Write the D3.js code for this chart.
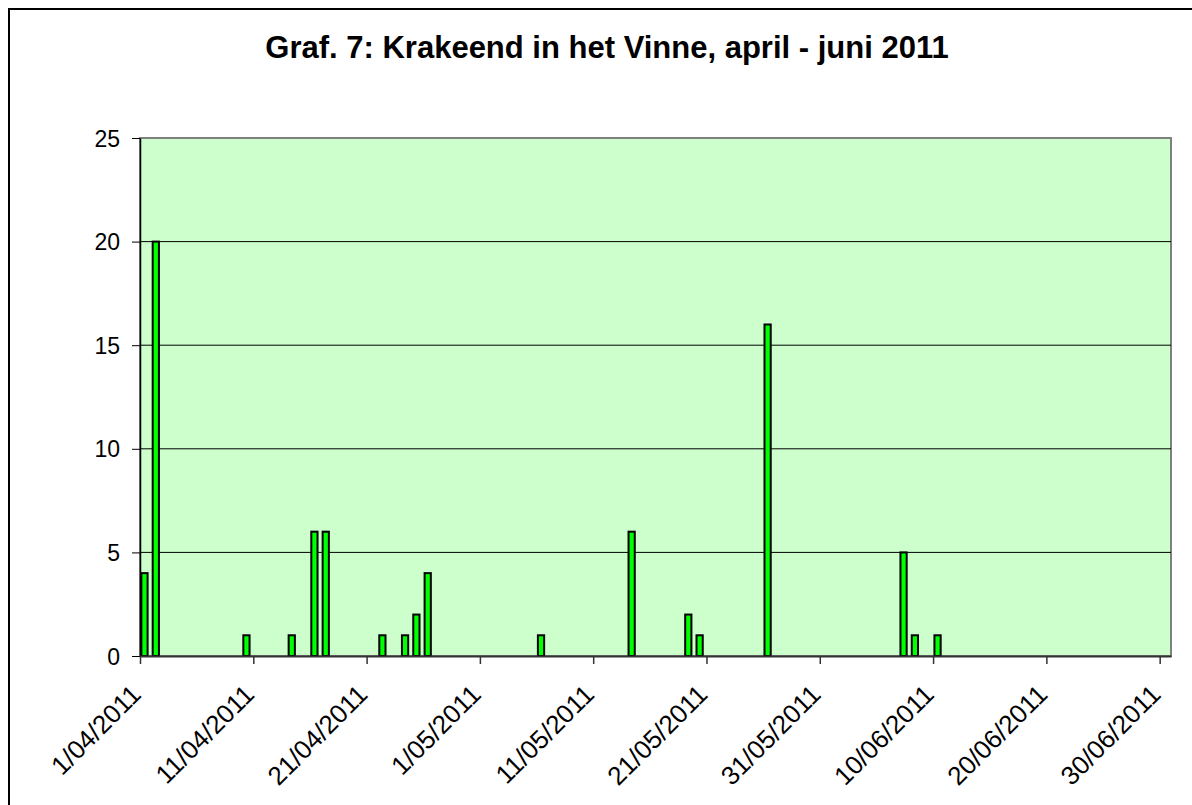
<!DOCTYPE html>
<html>
<head>
<meta charset="utf-8">
<script src="https://cdn.jsdelivr.net/npm/d3@7"></script>
<style>
	body { margin: 0; background: #fff; }
	svg text { font-family: "Liberation Sans", Arial, sans-serif; fill: #000; }
</style>
</head>
<body>
<div id="chart"></div>
<script>
// counts per day (Krakeend, het Vinne)
var obsDates = ['1/04/2011', '2/04/2011', '10/04/2011', '14/04/2011', '16/04/2011', '17/04/2011',
	'22/04/2011', '24/04/2011', '25/04/2011', '26/04/2011', '6/05/2011', '14/05/2011',
	'19/05/2011', '20/05/2011', '26/05/2011', '7/06/2011', '8/06/2011', '10/06/2011'];
var obsCounts = [4, 20, 1, 1, 6, 6, 1, 1, 2, 4, 1, 6, 2, 1, 16, 5, 1, 1];

var xTickLabels = ['1/04/2011', '11/04/2011', '21/04/2011', '1/05/2011', '11/05/2011',
	'21/05/2011', '31/05/2011', '10/06/2011', '20/06/2011', '30/06/2011'];
var yTicks = [0, 5, 10, 15, 20, 25];

var chartTitle = 'Graf. 7: Krakeend in het Vinne, april - juni 2011';

var W = 1192, H = 805;
var plot = {left: 140, right: 1171, top: 138, bottom: 656};
var parseDate = d3.timeParse('%d/%m/%Y');

var svg = d3.select('#chart').append('svg')
	.attr('width', W)
	.attr('height', H);

// outer chart border (right/bottom fall outside the picture)
svg.append('rect')
	.attr('x', 9).attr('y', 9)
	.attr('width', W + 20).attr('height', H + 20)
	.attr('fill', '#fff')
	.attr('stroke', '#000')
	.attr('stroke-width', 2);

svg.append('text')
	.attr('x', 607)
	.attr('y', 58)
	.attr('text-anchor', 'middle')
	.style('font-size', '31px')
	.style('font-weight', 'bold')
	.text(chartTitle);

var x = d3.scaleTime()
	.domain([parseDate('1/04/2011'), parseDate('1/07/2011')])
	.range([plot.left, plot.right]);

var y = d3.scaleLinear()
	.domain([0, 25])
	.range([plot.bottom, plot.top]);

// plot background
svg.append('rect')
	.attr('x', plot.left).attr('y', plot.top)
	.attr('width', plot.right - plot.left)
	.attr('height', plot.bottom - plot.top)
	.attr('fill', '#ccffcc')
	.attr('stroke', '#808080')
	.attr('stroke-width', 2);

// gridlines
svg.append('g')
	.selectAll('line')
	.data(yTicks.slice(1, -1))
	.enter().append('line')
	.attr('x1', plot.left).attr('x2', plot.right)
	.attr('y1', function(d) { return y(d); })
	.attr('y2', function(d) { return y(d); })
	.attr('stroke', '#000')
	.attr('stroke-width', 1);

// bars
var dayW = x(parseDate('2/04/2011')) - x(parseDate('1/04/2011'));
svg.append('g')
	.selectAll('rect')
	.data(obsDates)
	.enter().append('rect')
	.attr('x', function(d) { return x(parseDate(d)) + dayW * 0.12; })
	.attr('y', function(d, i) { return y(obsCounts[i]); })
	.attr('width', dayW * 0.55)
	.attr('height', function(d, i) { return y(0) - y(obsCounts[i]); })
	.attr('fill', '#00ff00')
	.attr('stroke', '#000')
	.attr('stroke-width', 2);

// y axis
var yAxis = svg.append('g')
	.attr('transform', 'translate(' + plot.left + ',0)')
	.call(d3.axisLeft(y).tickValues(yTicks).tickSize(8).tickSizeOuter(0).tickPadding(12));
yAxis.select('.domain').attr('stroke', '#000').attr('stroke-width', 1.5);
yAxis.selectAll('.tick line').attr('stroke', '#000');
yAxis.selectAll('.tick text')
	.style('font-size', '23px')
	.attr('dy', '0.35em');

// x axis
var xAxis = svg.append('g')
	.attr('transform', 'translate(0,' + plot.bottom + ')')
	.call(d3.axisBottom(x)
		.tickValues(xTickLabels.map(parseDate))
		.tickFormat(function(d, i) { return xTickLabels[i]; })
		.tickSize(8)
		.tickSizeOuter(0));
xAxis.select('.domain').attr('stroke', '#333').attr('stroke-width', 2);
xAxis.selectAll('.tick line').attr('stroke', '#333').attr('stroke-width', 1.5);
xAxis.selectAll('.tick text')
	.style('font-size', '26px')
	.attr('text-anchor', 'end')
	.attr('dy', null)
	.attr('y', null)
	.attr('transform', 'translate(2,40) rotate(-45)');
</script>
</body>
</html>
